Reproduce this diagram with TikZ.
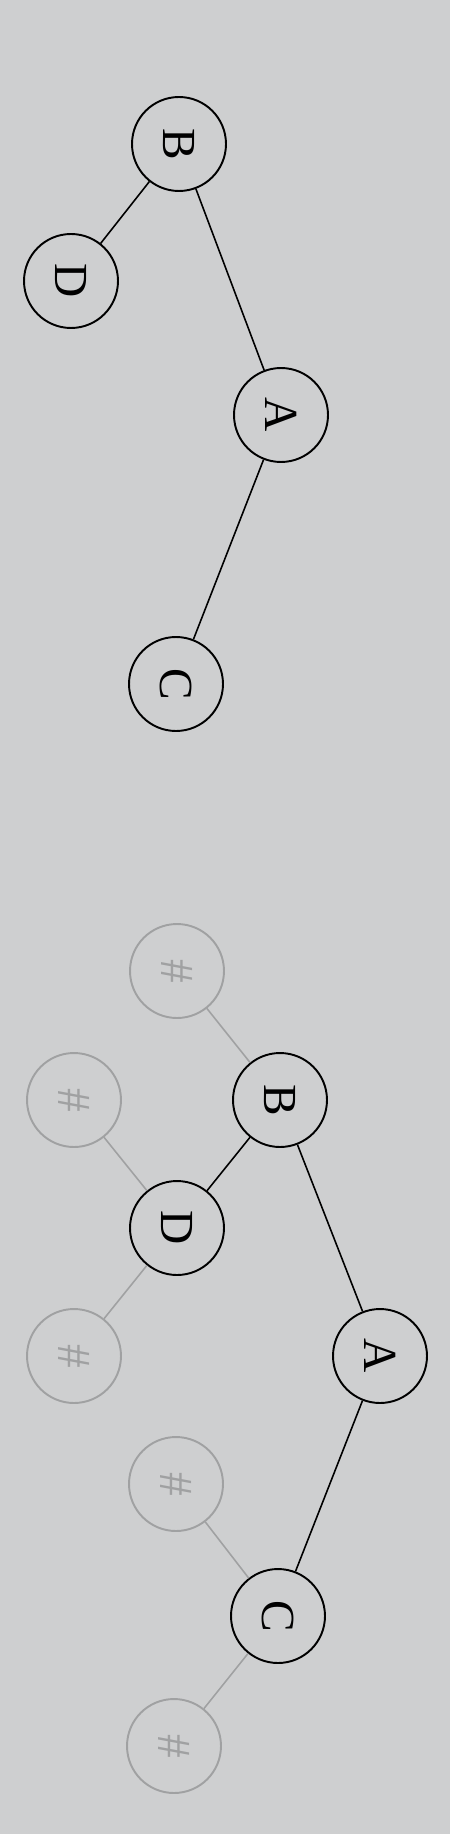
\documentclass[tikz,border=0pt]{standalone}
\usepackage{fontspec}
\setmainfont{Liberation Serif}
\definecolor{paper}{RGB}{206,207,208}
\definecolor{faint}{RGB}{160,161,162}

\begin{document}
\begin{tikzpicture}[x=0.02cm,y=-0.02cm,
        font=\fontsize{27}{30}\selectfont,inner sep=2pt,
        every node/.style={draw,circle,minimum size=1.88cm,line width=1.1pt,rotate=-90},
        empty/.style={draw=faint,text=faint},
        link/.style={line width=0.9pt},
        faintlink/.style={line width=0.9pt,draw=faint}]

    \fill[paper] (0,0) rectangle (450,1834);
    \useasboundingbox (0,0) rectangle (450,1834);

    % the tree
    \node (a1) at (281,415) {A};
    \node (b1) at (179,144) {B};
    \node (c1) at (176,684) {C};
    \node (d1) at (71,281)  {D};
    \draw[link] (a1) -- (b1);
    \draw[link] (a1) -- (c1);
    \draw[link] (b1) -- (d1);

    % the same tree with # for empty children
    \node (a2) at (380,1356) {A};
    \node (b2) at (280,1100) {B};
    \node (c2) at (278,1616) {C};
    \node (d2) at (177,1228) {D};
    \node[empty] (e1) at (177,971)  {\#};
    \node[empty] (e2) at (74,1100)  {\#};
    \node[empty] (e3) at (74,1356)  {\#};
    \node[empty] (e4) at (176,1484) {\#};
    \node[empty] (e5) at (174,1746) {\#};
    \draw[link] (a2) -- (b2);
    \draw[link] (a2) -- (c2);
    \draw[link] (b2) -- (d2);
    \draw[faintlink] (b2) -- (e1);
    \draw[faintlink] (d2) -- (e2);
    \draw[faintlink] (d2) -- (e3);
    \draw[faintlink] (c2) -- (e4);
    \draw[faintlink] (c2) -- (e5);
\end{tikzpicture}
\end{document}
